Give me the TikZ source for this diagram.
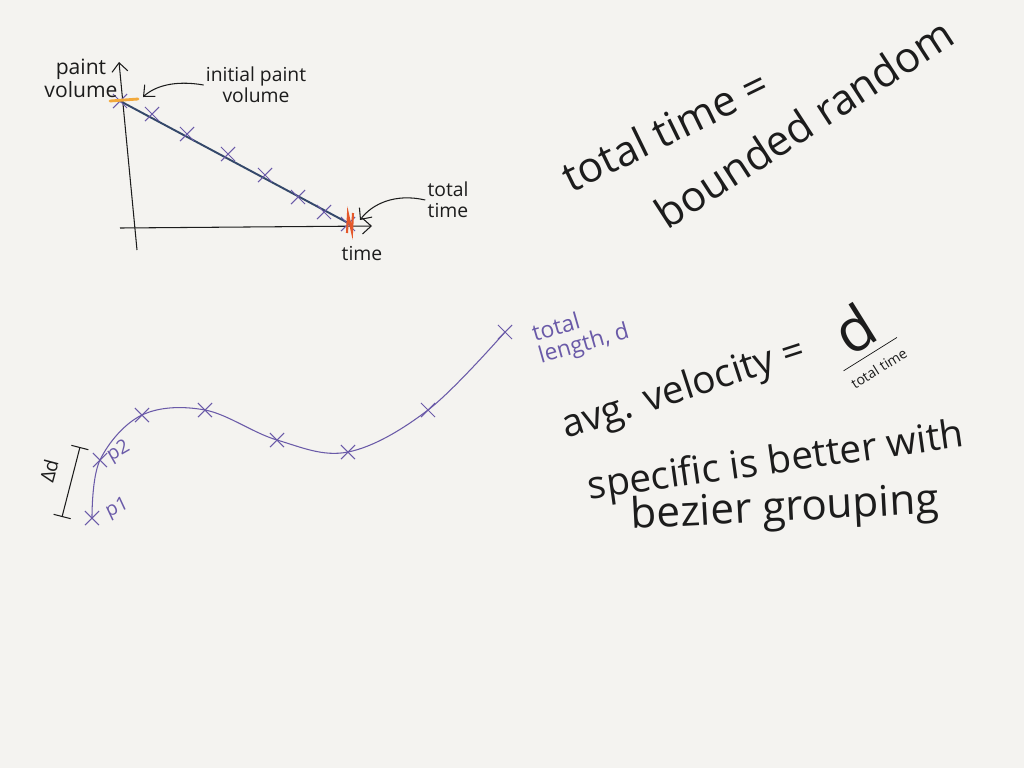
\documentclass[tikz,border=0pt]{standalone}
\usepackage{fontspec}
\setmainfont{Open Sans}
\usetikzlibrary{positioning,arrows.meta,shapes.misc}
\definecolor{paper}{HTML}{F4F3F0}
\definecolor{ink}{HTML}{1C1C1C}
\definecolor{purp}{HTML}{6A5AA8}
\definecolor{slate}{HTML}{34486A}
\definecolor{amber}{HTML}{F2A93B}
\definecolor{vermil}{HTML}{E5582A}
\tikzset{
  xmk/.style={cross out,draw=purp,line width=0.6pt,minimum size=7.5pt,inner sep=0pt},
  note/.style={font=\fontsize{11}{12}\selectfont,text=ink,align=center,inner sep=1pt},
  big/.style={font=\fontsize{24}{26}\selectfont,text=ink,inner sep=0pt},
  plbl/.style={font=\fontsize{11}{12}\selectfont,text=purp,inner sep=1pt},
}
\begin{document}
\begin{tikzpicture}[>={Straight Barb[length=5pt,width=9pt]},x=0.02cm,y=-0.02cm]
  \fill[paper] (0,0) rectangle (1024,768);
  \useasboundingbox (0,0) rectangle (1024,768);

  % graph: paint volume against time
  \begin{scope}[ink,line width=0.6pt]
    \coordinate (ybot) at (137,250); \coordinate (ytop) at (119,62);
    \coordinate (xl) at (120,228); \coordinate (xr) at (372,226);
    \draw[->] (ybot) -- (ytop);
    \draw[->] (xl) -- (xr);
    \coordinate (v0) at (120,101); \coordinate (vT) at (350,224);
    \draw[slate,line width=1.1pt] (v0) -- (vT);
    \foreach \x/\y [count=\i] in {120/101,152/114,187/134,228/154,265/175,298/197,324/212,348/224}
      \node[xmk] (s\i) at (\x,\y) {};
    \draw[amber,line width=1.6pt,line cap=round] (110,101) -- (138,99);
    % end marker
    \draw[vermil,line width=1.2pt] (347,233) -- (348,214) -- (352,232) -- (353,213);
    \node[note,font=\fontsize{12}{11}\selectfont] (pv) at (81,78) {paint\\volume};
    \node[note] (ipv) at (256,85) {initial paint\\volume};
    \coordinate (ipvtip) at (143,97);
    \draw[->] (ipv.west) .. controls (175,80) and (155,86) .. (ipvtip);
    \node[note] (tot) at (448,200) {total\\time};
    \coordinate (tottip) at (360,220);
    \draw[->] (tot.west) .. controls (395,193) and (372,204) .. (tottip);
    \node[note] (tm) at (362,253) {time};
  \end{scope}

  % path with sample points
  \foreach \n/\x/\y in {p1/92/518,p2/100/460,c3/142/415,c4/205/410,c5/277/440,c6/348/452,c7/428/410,pe/505/332}
    \coordinate (\n) at (\x,\y);
  \draw[purp,line width=0.6pt] plot[smooth,tension=0.6] coordinates {(p1) (p2) (c3) (c4) (c5) (c6) (c7) (pe)};
  \foreach \n in {p1,p2,c3,c4,c5,c6,c7,pe}
    \node[xmk] (x\n) at (\n) {};
  \node[plbl,rotate=25,anchor=west] (lp1) at (105,514) {p1};
  \node[plbl,rotate=30,anchor=west] (lp2) at (107,458) {p2};
  \node[plbl,font=\fontsize{13}{13}\selectfont,rotate=16,align=left] (llen) at (581,334) {total\\length, d};
  % delta d bracket
  \coordinate (dlo) at (62,517); \coordinate (dhi) at (80,447);
  \draw[ink,line width=0.6pt,{Bar[width=10pt]}-{Bar[width=10pt]}] (dlo) -- (dhi);
  \node[note,rotate=75] (dl) at (49,471) {Δd};

  % notes on the right
  \node[big,rotate=26] (tteq) at (665,130) {total time =};
  \node[big,rotate=33] (bnd) at (804,123) {bounded random};
  \node[big,font=\fontsize{22}{24}\selectfont,rotate=18] (avg) at (684,390) {avg. velocity =};
  \node[rotate=32,text=ink,inner sep=0pt] (frac) at (862,341)
    {$\displaystyle\frac{\mbox{\fontsize{34}{30}\selectfont d}}{\raisebox{-3pt}{\fontsize{8}{9}\selectfont total time}}$};
  \node[big,font=\fontsize{22}{24}\selectfont,rotate=8] (spec) at (776,463) {specific is better with};
  \node[big,font=\fontsize{24}{26}\selectfont,rotate=3] (bez) at (785,510) {bezier grouping};
\end{tikzpicture}
\end{document}
